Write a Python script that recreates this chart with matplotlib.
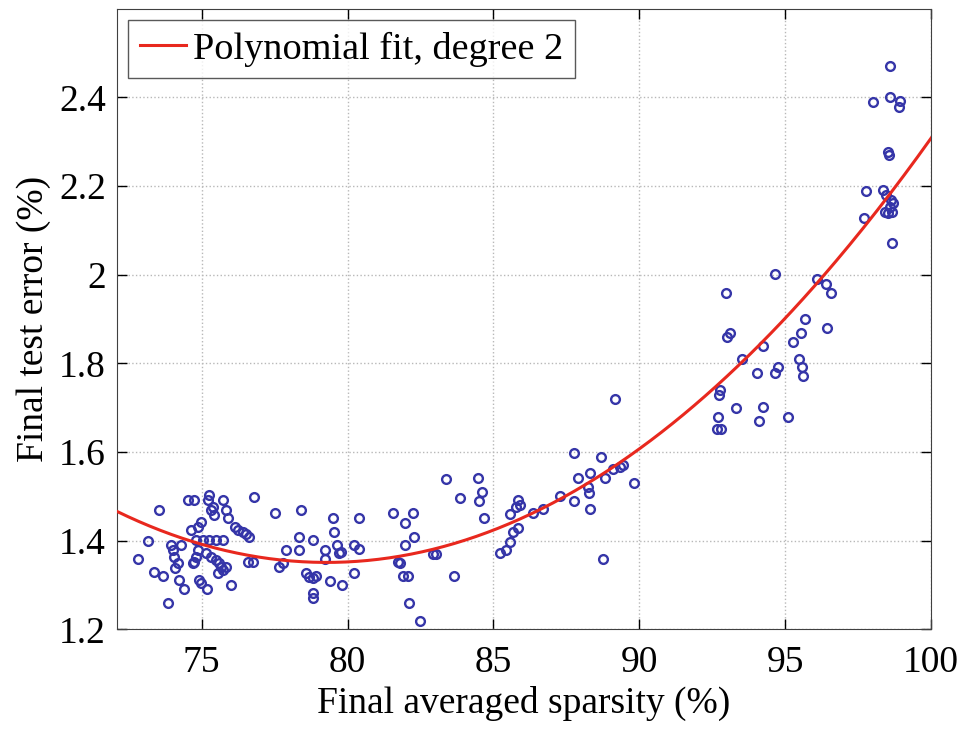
import numpy as np
import matplotlib
matplotlib.use("Agg")
import matplotlib.pyplot as plt

# values
sparsity = [
    72.81, 73.55, 73.17, 73.38, 73.67, 73.84, 73.95, 74.02, 74.07, 74.18,
    74.09, 74.30, 74.24, 74.41, 74.53, 74.75, 74.64, 74.87, 74.98, 74.81,
    75.05, 75.26, 75.50, 75.74, 74.87, 74.81, 74.74, 74.70, 74.91, 74.98,
    75.18, 75.26, 75.23, 75.38, 75.33, 75.43, 75.73, 75.84, 75.90, 75.15,
    75.33, 75.50, 75.60, 75.67, 75.73, 75.56, 75.84, 76.01, 76.13, 76.24,
    76.41, 76.53, 76.64, 76.81, 76.59, 76.76, 77.50, 77.66, 77.79, 77.90,
    78.35, 78.35, 78.41, 78.59, 78.82, 78.82, 78.69, 78.80, 78.92, 78.80,
    79.49, 79.55, 79.24, 79.24, 79.40, 79.65, 79.72, 79.78, 79.81, 80.23,
    80.40, 80.38, 80.21, 81.55, 81.98, 82.23, 82.29, 81.98, 81.72, 81.78,
    81.89, 82.06, 82.10, 82.49, 82.92, 83.04, 83.38, 83.87, 84.46, 84.62,
    84.52, 84.66, 83.64,
    89.18, 87.75, 88.70, 89.44, 89.33, 89.10, 88.81, 89.82, 87.90, 88.30,
    88.24, 88.27, 88.30, 87.75, 87.27, 86.70, 86.35, 85.84, 85.90, 85.78,
    85.55, 85.84, 85.67, 85.55, 85.44, 85.21, 88.75,
    94.65, 92.97, 93.10, 92.99, 93.50, 94.22, 94.04, 94.65, 94.76, 95.27,
    95.53, 95.68, 95.48, 95.56, 95.62, 92.76, 92.74, 92.70, 92.65, 92.78,
    93.31, 94.22, 94.11, 95.10, 96.08, 96.39, 96.57, 96.42,
    98.59, 98.02, 98.59, 98.94, 98.88, 98.51, 98.57, 97.77, 98.34, 98.46,
    98.63, 98.70, 98.59, 98.42, 98.53, 98.66, 97.71, 98.65,
]
test_error = [
    1.358, 1.469, 1.399, 1.329, 1.320, 1.259, 1.390, 1.378, 1.363, 1.349,
    1.338, 1.390, 1.311, 1.290, 1.491, 1.491, 1.423, 1.430, 1.442, 1.401,
    1.401, 1.401, 1.401, 1.401, 1.378, 1.363, 1.351, 1.349, 1.311, 1.304,
    1.290, 1.502, 1.491, 1.475, 1.469, 1.457, 1.491, 1.469, 1.451, 1.372,
    1.363, 1.356, 1.349, 1.340, 1.333, 1.326, 1.340, 1.299, 1.430, 1.423,
    1.419, 1.414, 1.408, 1.498, 1.351, 1.351, 1.462, 1.340, 1.349, 1.378,
    1.408, 1.378, 1.469, 1.326, 1.401, 1.281, 1.317, 1.315, 1.320, 1.270,
    1.451, 1.419, 1.378, 1.358, 1.308, 1.390, 1.372, 1.374, 1.299, 1.390,
    1.381, 1.451, 1.326, 1.462, 1.439, 1.462, 1.408, 1.390, 1.351, 1.349,
    1.320, 1.320, 1.259, 1.218, 1.369, 1.369, 1.539, 1.496, 1.541, 1.509,
    1.489, 1.451, 1.320,
    1.719, 1.597, 1.588, 1.570, 1.566, 1.561, 1.541, 1.530, 1.541, 1.552,
    1.521, 1.507, 1.471, 1.489, 1.500, 1.471, 1.462, 1.491, 1.480, 1.475,
    1.460, 1.428, 1.419, 1.396, 1.378, 1.372, 1.358,
    2.001, 1.958, 1.868, 1.859, 1.809, 1.839, 1.778, 1.778, 1.791, 1.848,
    1.868, 1.900, 1.809, 1.791, 1.771, 1.740, 1.728, 1.679, 1.651, 1.651,
    1.699, 1.701, 1.670, 1.679, 1.990, 1.979, 1.958, 1.879,
    2.471, 2.390, 2.401, 2.392, 2.378, 2.277, 2.270, 2.189, 2.191, 2.180,
    2.168, 2.162, 2.153, 2.141, 2.139, 2.141, 2.128, 2.071,
]

x_ticks = [75, 80, 85, 90, 95, 100]
y_ticks = [1.2, 1.4, 1.6, 1.8, 2.0, 2.2, 2.4]
y_labels = ["1.2", "1.4", "1.6", "1.8", "2", "2.2", "2.4"]

plt.rcParams['font.family'] = ['Liberation Serif', 'DejaVu Serif']

fig = plt.figure(figsize=(9.67, 7.30), dpi=100)
ax = fig.add_axes([0.121, 0.138, 0.842, 0.850])

# degree 2 fit of the scatter
coef = np.polyfit(sparsity, test_error, 2)
xs = np.linspace(72.1, 100, 300)
ax.plot(sparsity, test_error, 'o', mfc='none', mec='#3535a8', ms=6.3, mew=1.7,
        zorder=3)
ax.plot(xs, np.polyval(coef, xs), '-', color='#e8281e', lw=2.2,
        label='Polynomial fit, degree 2', zorder=4)

ax.set_xlim(72.1, 100)
ax.set_ylim(1.2, 2.6)
ax.set_xticks(x_ticks)
ax.set_yticks(y_ticks)
ax.set_yticklabels(y_labels)
ax.tick_params(axis='x', pad=12)
ax.tick_params(direction='in', length=7, width=1, top=True, right=True,
               labelsize=27)
ax.tick_params(axis='y', pad=8)
ax.grid(True, linestyle=':', color='#b8b8b8', lw=1.0)
for s in ax.spines.values():
    s.set_color('#404040')

ax.set_xlabel('Final averaged sparsity (%)', fontsize=27, labelpad=4)
ax.set_ylabel('Final test error (%)', fontsize=27, labelpad=6)

leg = ax.legend(loc='upper left', fontsize=27.5, frameon=True, fancybox=False,
                handlelength=1.2, handletextpad=0.2, borderpad=0.3,
                borderaxespad=0.3)
leg.get_frame().set_edgecolor('#303030')
leg.get_frame().set_linewidth(1.0)

fig.savefig('out.png', dpi=100)
